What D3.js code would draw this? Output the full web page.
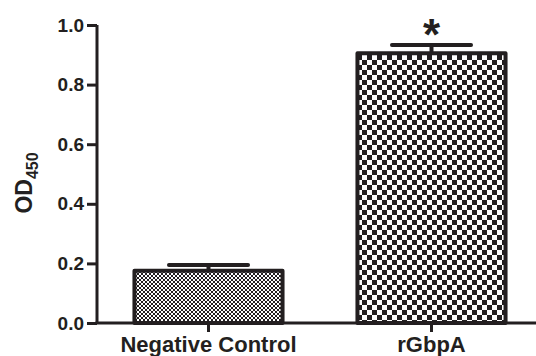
<!DOCTYPE html>
<html>
<head>
<meta charset="utf-8">
<script src="https://cdn.jsdelivr.net/npm/d3@7"></script>
<style>
  body { margin: 0; background: #fff; }
  text { font-family: "Liberation Sans", Arial, sans-serif; font-weight: bold; fill: #231f20; }
</style>
</head>
<body>
<div id="chart"></div>
<script>
// data
const groups = ["Negative Control", "rGbpA"]
const means = [0.175, 0.905]
const errors = [0.02, 0.028]
const yTicks = [0.0, 0.2, 0.4, 0.6, 0.8, 1.0]
const marks = ["", "*"]

const W = 536, H = 356
const margin = { top: 25, right: 0, bottom: 33, left: 97 }
const width = W - margin.left - margin.right
const height = H - margin.top - margin.bottom
const ink = "#231f20"

const svg = d3.select("#chart").append("svg")
  .attr("width", W)
  .attr("height", H)
  .append("g")
  .attr("transform", "translate(" + margin.left + "," + margin.top + ")")

// checker patterns, fine one for control, coarse one for rGbpA
const defs = svg.append("defs")
function checker(id, s) {
  const p = defs.append("pattern")
    .attr("id", id)
    .attr("patternUnits", "userSpaceOnUse")
    .attr("width", s * 2).attr("height", s * 2)
  p.append("rect").attr("width", s * 2).attr("height", s * 2).attr("fill", "#fff")
  p.append("rect").attr("width", s).attr("height", s).attr("fill", ink)
  p.append("rect").attr("x", s).attr("y", s).attr("width", s).attr("height", s).attr("fill", ink)
}
checker("fine", 2)
checker("coarse", 5)
const fills = ["url(#fine)", "url(#coarse)"]

const x = d3.scaleBand()
  .domain(groups)
  .range([0, 446])
  .paddingInner(0.318)
  .paddingOuter(0.159)

const y = d3.scaleLinear()
  .domain([0, 1])
  .range([height, 0])

const data = groups.map((g, i) => ({ g, m: means[i], e: errors[i], fill: fills[i], mark: marks[i] }))

// error bars (drawn first, the bar covers the lower half)
const eb = svg.selectAll(".err")
  .data(data)
  .join("g")
  .attr("class", "err")
eb.append("line")
  .attr("x1", d => x(d.g) + x.bandwidth() / 2)
  .attr("x2", d => x(d.g) + x.bandwidth() / 2)
  .attr("y1", d => y(d.m))
  .attr("y2", d => y(d.m + d.e))
  .attr("stroke", ink).attr("stroke-width", 4)
eb.append("line")
  .attr("x1", d => x(d.g) + x.bandwidth() / 2 - x.bandwidth() * 0.26)
  .attr("x2", d => x(d.g) + x.bandwidth() / 2 + x.bandwidth() * 0.26)
  .attr("y1", d => y(d.m + d.e))
  .attr("y2", d => y(d.m + d.e))
  .attr("stroke", ink).attr("stroke-width", 4)
  .attr("stroke-linecap", "round")

svg.selectAll(".bar")
  .data(data)
  .join("rect")
  .attr("class", "bar")
  .attr("x", d => x(d.g) + 2)
  .attr("width", x.bandwidth() - 4)
  .attr("y", d => y(d.m))
  .attr("height", d => y(0) - y(d.m))
  .attr("fill", d => d.fill)
  .attr("stroke", ink)
  .attr("stroke-width", 4)
  .attr("stroke-linejoin", "round")

svg.selectAll(".mark")
  .data(data)
  .join("text")
  .attr("class", "mark")
  .attr("x", d => x(d.g) + x.bandwidth() / 2)
  .attr("y", d => y(d.m + d.e) + 5)
  .attr("text-anchor", "middle")
  .attr("font-size", 44)
  .text(d => d.mark)

// axes
const yAxis = svg.append("g")
  .call(d3.axisLeft(y).tickValues(yTicks).tickFormat(d3.format(".1f")).tickSize(10).tickPadding(3))
yAxis.select(".domain").attr("d", "M0," + y(1) + "V" + y(0)).attr("stroke-width", 3).attr("stroke", ink)
yAxis.selectAll(".tick line").attr("stroke-width", 3).attr("stroke", ink)
yAxis.selectAll(".tick text").attr("font-size", 19).attr("fill", ink)

const xAxis = svg.append("g")
  .attr("transform", "translate(0," + height + ")")
  .call(d3.axisBottom(x).tickSize(9).tickPadding(4))
xAxis.select(".domain").attr("d", "M-1.5,0H" + width).attr("stroke-width", 3).attr("stroke", ink)
xAxis.selectAll(".tick line").attr("stroke-width", 3).attr("stroke", ink)
xAxis.selectAll(".tick text").attr("font-size", 22).attr("fill", ink)

// y title with subscript
svg.append("text")
  .attr("transform", "translate(-65," + (height / 2 + 9) + ") rotate(-90)")
  .attr("text-anchor", "middle")
  .attr("font-size", 23)
  .call(t => {
    t.append("tspan").text("OD")
    t.append("tspan").attr("font-size", 16).attr("dy", 6).text("450")
  })
</script>
</body>
</html>
